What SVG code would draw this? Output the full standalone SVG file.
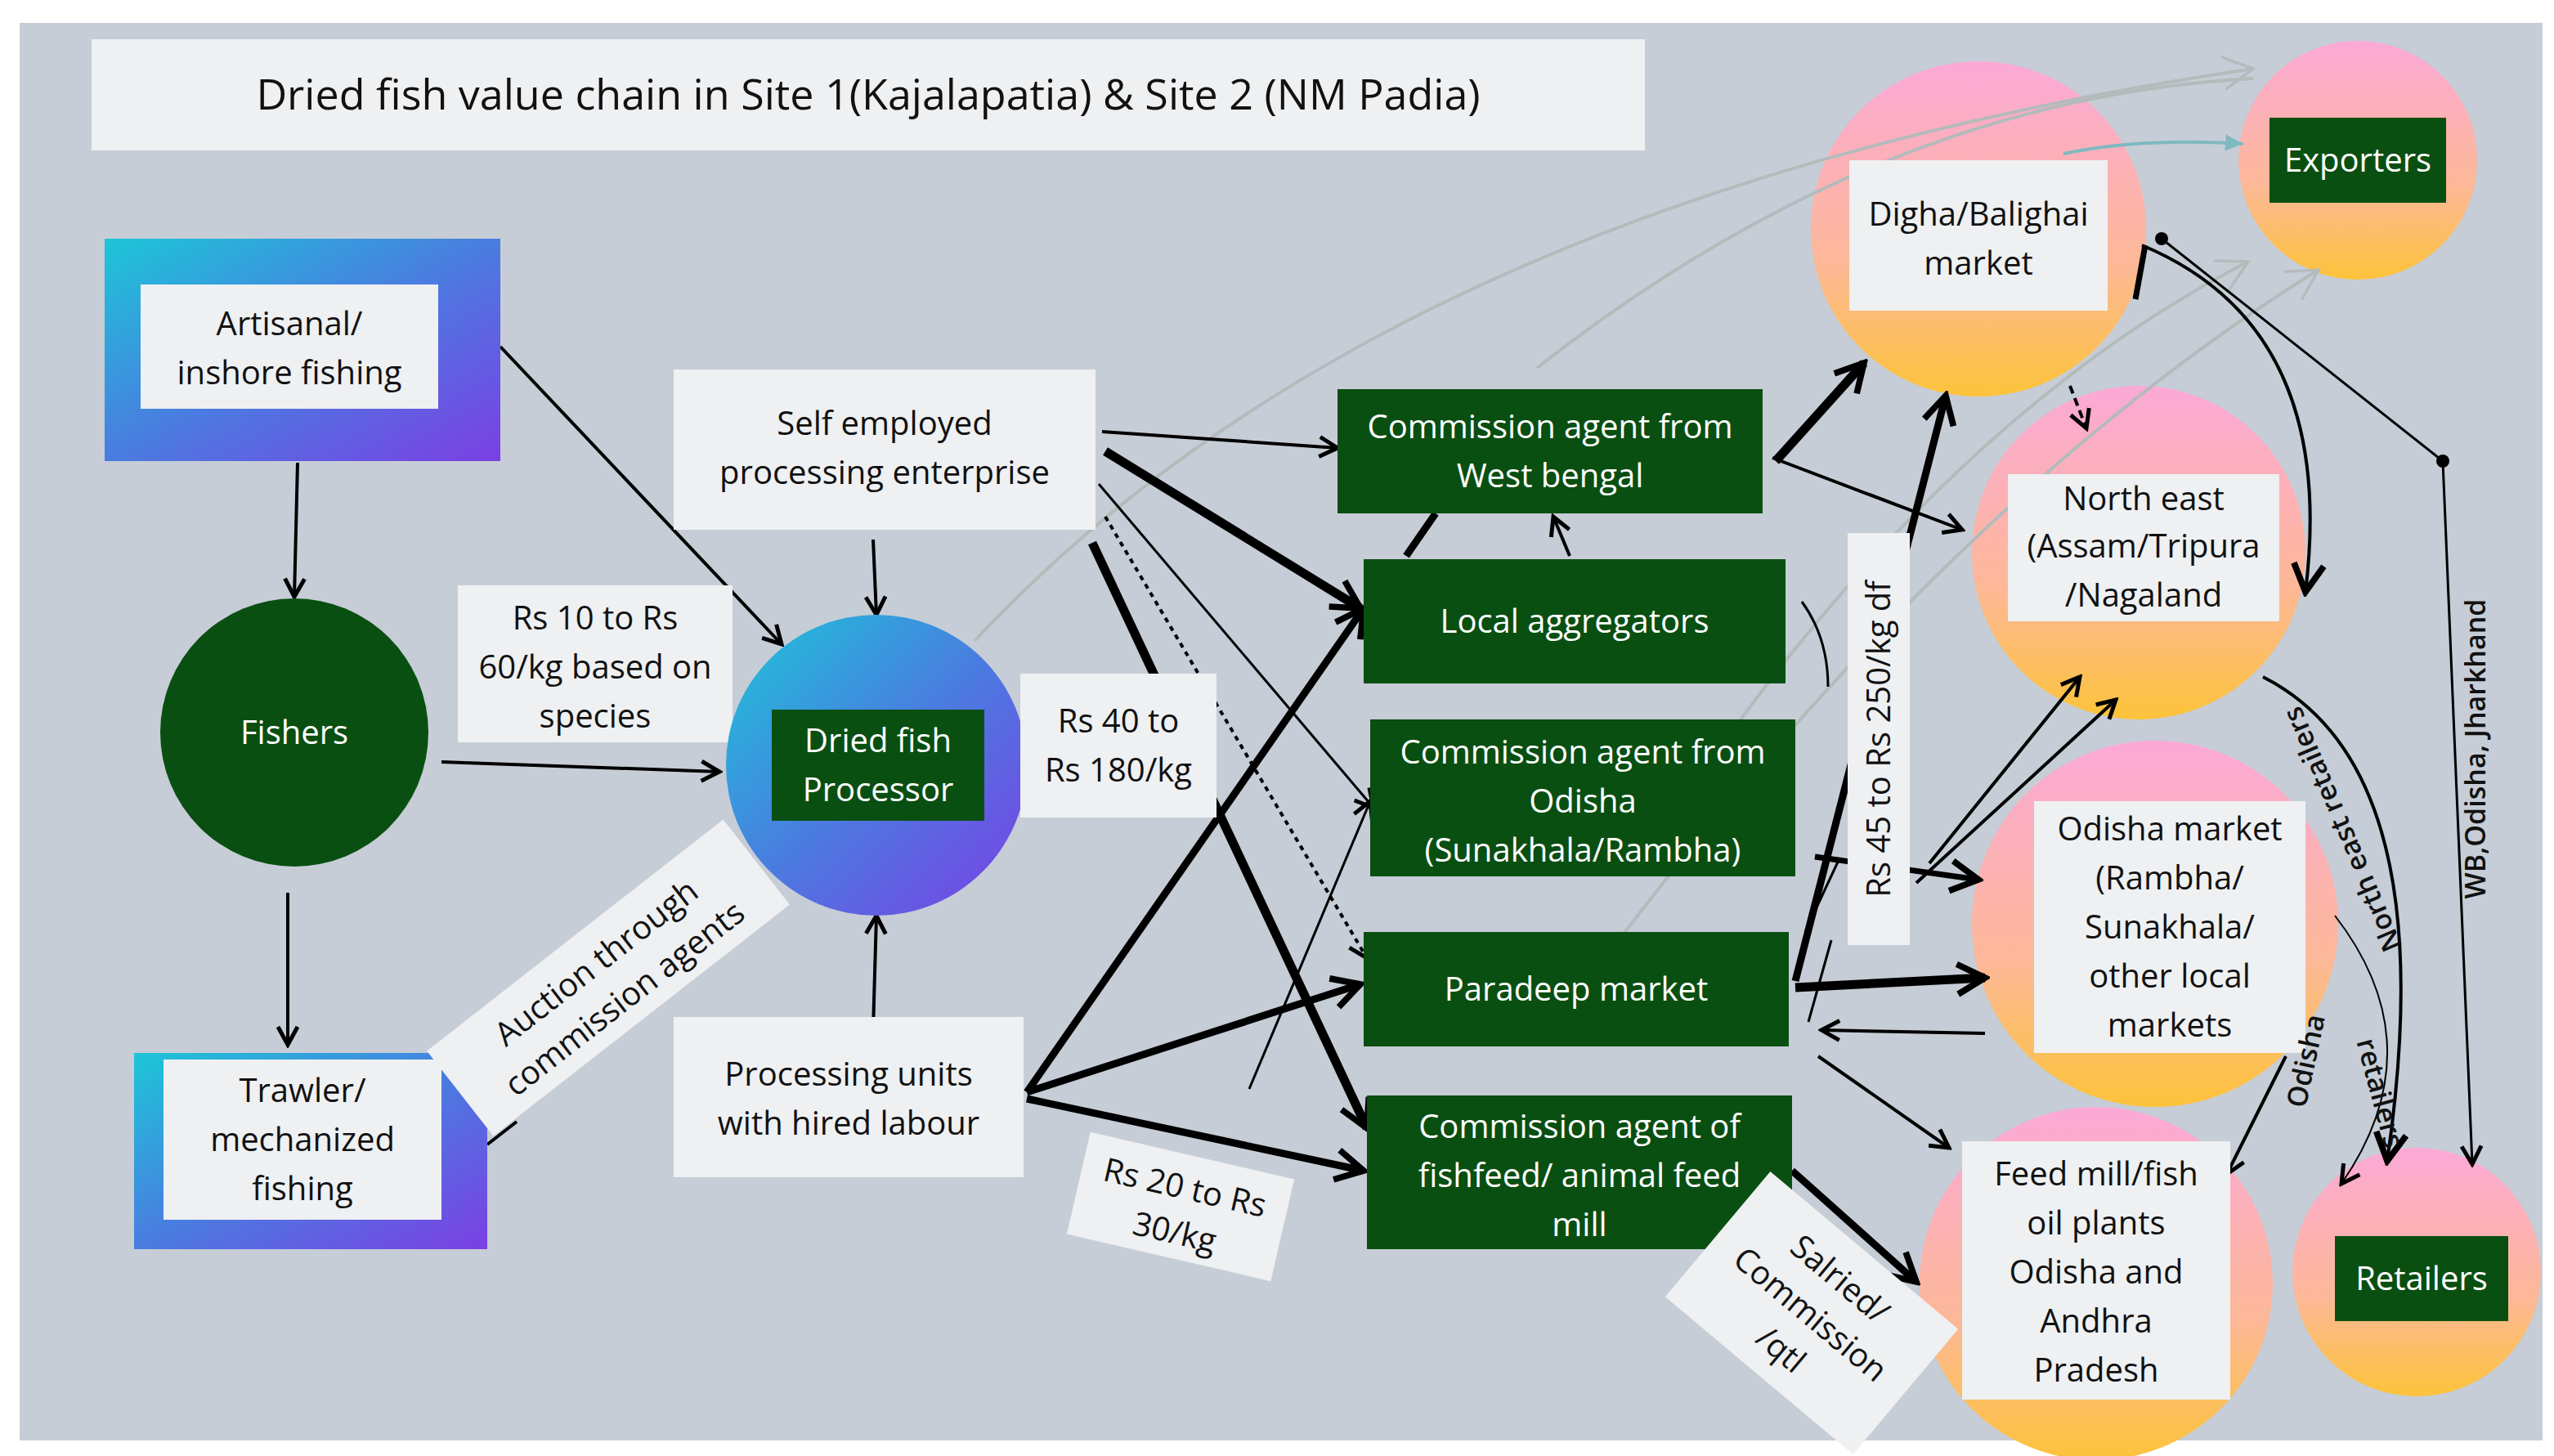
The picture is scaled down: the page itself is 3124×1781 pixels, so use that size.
<svg xmlns="http://www.w3.org/2000/svg" width="3124" height="1781" viewBox="0 0 3124 1781">
<defs>
<linearGradient id="blu" x1="0" y1="0" x2="1" y2="1"><stop offset="0" stop-color="#1cc6d8"/><stop offset="0.5" stop-color="#4a7ce0"/><stop offset="1" stop-color="#7b3fe4"/></linearGradient>
<linearGradient id="pk" x1="0" y1="0" x2="0" y2="1"><stop offset="0" stop-color="#fba9d6"/><stop offset="0.6" stop-color="#fcb898"/><stop offset="1" stop-color="#fdc33a"/></linearGradient>
<marker id="a" viewBox="0 0 30 30" refX="26" refY="15" markerWidth="30" markerHeight="30" markerUnits="userSpaceOnUse" orient="auto"><path d="M4 3 L26 15 L4 27" fill="none" stroke="#000" stroke-width="5" stroke-linejoin="miter"/></marker>
<marker id="ab" viewBox="0 0 30 30" refX="26" refY="15" markerWidth="46" markerHeight="46" markerUnits="userSpaceOnUse" orient="auto"><path d="M4 3 L26 15 L4 27" fill="none" stroke="#000" stroke-width="5"/></marker>
<marker id="ag" viewBox="0 0 30 30" refX="26" refY="15" markerWidth="50" markerHeight="50" markerUnits="userSpaceOnUse" orient="auto"><path d="M4 3 L26 15 L4 27" fill="none" stroke="#b3bbbb" stroke-width="2"/></marker>
<marker id="at" viewBox="0 0 30 30" refX="26" refY="15" markerWidth="30" markerHeight="30" markerUnits="userSpaceOnUse" orient="auto"><path d="M4 5 L26 15 L4 25 Z" fill="#7fb9c0"/></marker>
<marker id="dot" viewBox="0 0 10 10" refX="5" refY="5" markerWidth="16" markerHeight="16" markerUnits="userSpaceOnUse"><circle cx="5" cy="5" r="5" fill="#000"/></marker>
</defs>
<style>
text{font-family:"Open Sans","Noto Sans","Liberation Sans",sans-serif;font-size:40px;text-anchor:middle;fill:#111}
.w{fill:#fff}
.wb{fill:#eef0f2}
.g{fill:#0a4f12}
.c{fill:none;stroke:#000;stroke-width:4}
.t3{stroke-width:3}
.t7{stroke-width:7}
.t9{stroke-width:9}
.t11{stroke-width:11}
.gr{fill:none;stroke:#b3bbbb;stroke-width:4}
.lab{font-size:34px;font-weight:600}
.title{font-size:52px}
</style>
<rect width="3124" height="1781" fill="#fff"/>
<rect x="24" y="28" width="3086" height="1734" fill="#c6cdd6"/>
<rect x="112" y="48" width="1900" height="136" class="wb"/>
<text x="1062" y="134" class="title">Dried fish value chain in Site 1(Kajalapatia) &amp; Site 2 (NM Padia)</text>

<g id="circles-right">
<circle cx="2420" cy="280" r="205" fill="url(#pk)"/>
<circle cx="2884" cy="196" r="146" fill="url(#pk)"/>
<circle cx="2616" cy="676" r="204" fill="url(#pk)"/>
<circle cx="2636" cy="1130" r="224" fill="url(#pk)"/>
<circle cx="2564" cy="1570" r="216" fill="url(#pk)"/>
<circle cx="2956" cy="1556" r="152" fill="url(#pk)"/>
</g>

<g id="connectors">
<path class="gr" d="M1192 784 Q1700 240 2756 84" marker-end="url(#ag)"/>
<path class="gr" d="M1880 450 Q2300 120 2756 96"/>
<path class="gr" d="M2100 920 Q2400 500 2750 320" marker-end="url(#ag)"/>
<path class="gr" d="M1980 1150 Q2400 600 2836 330" marker-end="url(#ag)"/>
<path d="M2524 188 Q2620 168 2744 176" fill="none" stroke="#7fb9c0" stroke-width="4" marker-end="url(#at)"/>
<path class="c" d="M364 566 L360 730" marker-end="url(#a)"/>
<path class="c" d="M612 424 L956 788" marker-end="url(#a)"/>
<path class="c" d="M352 1092 L352 1278" marker-end="url(#a)"/>
<path class="c" d="M540 932 L880 944" marker-end="url(#a)"/>
<path class="c" d="M1068 660 L1072 752" marker-end="url(#a)"/>
<path class="c" d="M1068 1260 L1072 1120" marker-end="url(#a)"/>
<path class="c" d="M596 1400 L632 1372"/>
<path class="c" d="M1348 528 L1636 548" marker-end="url(#a)"/>
<path class="c t11" d="M1352 552 L1664 744" marker-end="url(#ab)"/>
<path class="c t3" d="M1344 592 L1680 988" marker-end="url(#a)"/>
<path class="c" d="M1352 632 L1672 1172" stroke-dasharray="6 6" marker-end="url(#a)"/>
<path class="c t11" d="M1336 664 L1672 1380" marker-end="url(#ab)"/>
<path class="c t9" d="M1256 1336 L1668 744" marker-end="url(#ab)"/>
<path class="c t9" d="M1256 1336 L1664 1204" marker-end="url(#ab)"/>
<path class="c t9" d="M1256 1344 L1668 1432" marker-end="url(#ab)"/>
<path class="c t3" d="M1528 1332 L1676 980" marker-end="url(#a)"/>
<path class="c t9" d="M1720 680 L1756 628"/>
<path class="c" d="M1920 680 L1900 632" marker-end="url(#a)"/>
<path class="c t11" d="M2172 564 L2280 444" marker-end="url(#ab)"/>
<path class="c" d="M2168 560 L2400 648" marker-end="url(#a)"/>
<path class="c t9" d="M2196 1200 L2380 484" marker-end="url(#ab)"/>
<path class="c t11" d="M2196 1208 L2428 1196" marker-end="url(#ab)"/>
<path class="c t7" d="M2220 1048 L2420 1076" marker-end="url(#ab)"/>
<path class="c" d="M2360 1056 L2544 828" marker-end="url(#a)"/>
<path class="c" d="M2344 1080 L2588 856" marker-end="url(#a)"/>
<path class="c" d="M2428 1264 L2228 1260" marker-end="url(#a)"/>
<path class="c" d="M2224 1292 L2384 1404" marker-end="url(#a)"/>
<path class="c t9" d="M2192 1432 L2344 1568" marker-end="url(#ab)"/>
<path class="c" d="M2796 1292 L2724 1436" marker-end="url(#a)"/>
<path class="c" d="M2532 472 L2552 524" stroke-dasharray="10 6" marker-end="url(#a)"/>
<path class="c t3" d="M2208 1140 L2250 1050 M2212 1250 L2240 1150"/>
<path class="c t3" d="M2204 736 Q2236 780 2236 840"/>
<path class="c" d="M2620 300 Q2860 400 2820 724" marker-end="url(#ab)"/>
<path class="c t7" d="M2612 366 L2624 300"/>
<path class="c t3" d="M2644 292 L2988 564 L3024 1424" marker-start="url(#dot)" marker-mid="url(#dot)" marker-end="url(#a)"/>
<path class="c" d="M2768 828 Q2990 940 2920 1420" marker-end="url(#ab)"/>
<path class="c" d="M2856 1120 Q2980 1280 2864 1448" style="stroke-width:2" marker-end="url(#a)"/>
</g>

<g id="artisanal"><rect x="128" y="292" width="484" height="272" fill="url(#blu)"/><rect x="172" y="348" width="364" height="152" class="wb"/><text x="354" y="410">Artisanal/</text><text x="354" y="470">inshore fishing</text></g>
<g id="fishers"><circle cx="360" cy="896" r="164" class="g"/><text x="360" y="910" class="w">Fishers</text></g>
<g id="trawler"><rect x="164" y="1288" width="432" height="240" fill="url(#blu)"/><rect x="200" y="1296" width="340" height="196" class="wb"/><text x="370" y="1348">Trawler/</text><text x="370" y="1408">mechanized</text><text x="370" y="1468">fishing</text></g>
<g id="rs10"><rect x="560" y="716" width="336" height="192" class="wb"/><text x="728" y="770">Rs 10 to Rs</text><text x="728" y="830">60/kg based on</text><text x="728" y="890">species</text></g>
<g id="processor"><circle cx="1072" cy="936" r="184" fill="url(#blu)"/><rect x="944" y="868" width="260" height="136" class="g"/><text x="1074" y="920" class="w">Dried fish</text><text x="1074" y="980" class="w">Processor</text></g>
<g id="selfemp"><rect x="824" y="452" width="516" height="196" class="wb"/><text x="1082" y="532">Self employed</text><text x="1082" y="592">processing enterprise</text></g>
<g id="procunits"><rect x="824" y="1244" width="428" height="196" class="wb"/><text x="1038" y="1328">Processing units</text><text x="1038" y="1388">with hired labour</text></g>
<g id="rs40"><rect x="1248" y="824" width="240" height="176" class="wb"/><text x="1368" y="896">Rs 40 to</text><text x="1368" y="956">Rs 180/kg</text></g>
<g id="auction" transform="translate(744 1196) rotate(-38)"><rect x="-230" y="-66" width="460" height="132" class="wb"/><text y="-10">Auction through</text><text y="46">commission agents</text></g>
<g id="rs20" transform="translate(1444 1476) rotate(13)"><rect x="-128" y="-64" width="256" height="128" class="wb"/><text y="-10">Rs 20 to Rs</text><text y="46">30/kg</text></g>
<g id="cawb"><rect x="1636" y="476" width="520" height="152" class="g"/><text x="1896" y="536" class="w">Commission agent from</text><text x="1896" y="596" class="w">West bengal</text></g>
<g id="local"><rect x="1668" y="684" width="516" height="152" class="g"/><text x="1926" y="774" class="w">Local aggregators</text></g>
<g id="caod"><rect x="1676" y="880" width="520" height="192" class="g"/><text x="1936" y="934" class="w">Commission agent from</text><text x="1936" y="994" class="w">Odisha</text><text x="1936" y="1054" class="w">(Sunakhala/Rambha)</text></g>
<g id="paradeep"><rect x="1668" y="1140" width="520" height="140" class="g"/><text x="1928" y="1224" class="w">Paradeep market</text></g>
<g id="cafeed"><rect x="1672" y="1340" width="520" height="188" class="g"/><text x="1932" y="1392" class="w">Commission agent of</text><text x="1932" y="1452" class="w">fishfeed/ animal feed</text><text x="1932" y="1512" class="w">mill</text></g>
<g id="rs45" transform="translate(2298 904) rotate(-90)"><rect x="-252" y="-38" width="504" height="76" class="wb"/><text y="14">Rs 45 to Rs 250/kg df</text></g>
<g id="digha"><rect x="2262" y="196" width="316" height="184" class="wb"/><text x="2420" y="276">Digha/Balighai</text><text x="2420" y="336">market</text></g>
<g id="exporters"><rect x="2776" y="144" width="216" height="104" class="g"/><text x="2884" y="210" class="w">Exporters</text></g>
<g id="northeast"><rect x="2456" y="580" width="332" height="180" class="wb"/><text x="2622" y="624">North east</text><text x="2622" y="682">(Assam/Tripura</text><text x="2622" y="742">/Nagaland</text></g>
<g id="odmarket"><rect x="2488" y="980" width="332" height="308" class="wb"/><text x="2654" y="1028">Odisha market</text><text x="2654" y="1088">(Rambha/</text><text x="2654" y="1148">Sunakhala/</text><text x="2654" y="1208">other local</text><text x="2654" y="1268">markets</text></g>
<g id="feedmill"><rect x="2400" y="1396" width="328" height="316" class="wb"/><text x="2564" y="1450">Feed mill/fish</text><text x="2564" y="1510">oil plants</text><text x="2564" y="1570">Odisha and</text><text x="2564" y="1630">Andhra</text><text x="2564" y="1690">Pradesh</text></g>
<g id="retailers"><rect x="2856" y="1512" width="212" height="104" class="g"/><text x="2962" y="1578" class="w">Retailers</text></g>
<g id="salried" transform="translate(2216 1606) rotate(40)"><rect x="-150" y="-100" width="300" height="200" class="wb"/><text y="-40">Salried/</text><text y="16">Commission</text><text y="72">/qtl</text></g>
<text transform="translate(2876 1010) rotate(-113)" class="lab">North east retailers</text>
<text transform="translate(2832 1300) rotate(-78)" class="lab">Odisha</text>
<text transform="translate(2900 1340) rotate(75)" class="lab">retailers</text>
<text transform="translate(3040 916) rotate(-90)" class="lab">WB,Odisha, Jharkhand</text>
</svg>
